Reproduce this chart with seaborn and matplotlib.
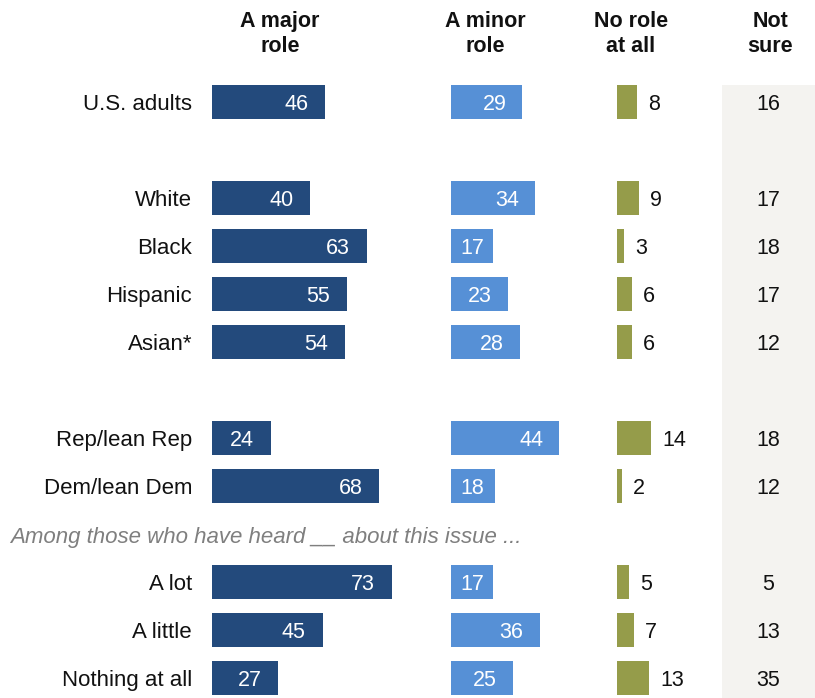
import matplotlib
matplotlib.use("Agg")
import matplotlib.pyplot as plt
import seaborn as sns
import pandas as pd

# ---------------- data ----------------
categories = ["U.S. adults", "White", "Black", "Hispanic", "Asian*",
              "Rep/lean Rep", "Dem/lean Dem", "A lot", "A little", "Nothing at all"]
groups = ["all", "race", "race", "race", "race",
          "party", "party", "heard", "heard", "heard"]
major = [46, 40, 63, 55, 54, 24, 68, 73, 45, 27]
minor = [29, 34, 17, 23, 28, 44, 18, 17, 36, 25]
no_role = [8, 9, 3, 6, 6, 14, 2, 5, 7, 13]
not_sure = [16, 17, 18, 17, 12, 18, 12, 5, 13, 35]
headers = ["A major\nrole", "A minor\nrole", "No role\nat all", "Not\nsure"]
note = "Among those who have heard __ about this issue ..."

# ---------------- layout ----------------
# row positions: one extra empty row between groups
pos = []
p = 0
for i, g in enumerate(groups):
    if i > 0:
        p += 2 if g != groups[i - 1] else 1
    pos.append(p)

df = pd.DataFrame({"cat": categories, "pos": pos, "major": major,
                   "minor": minor, "no_role": no_role, "not_sure": not_sure})

sns.set_theme(style="white")
plt.rcParams["font.family"] = ["Liberation Sans", "DejaVu Sans"]

W, H = 815, 698
fig = plt.figure(figsize=(W / 100, H / 100), dpi=100)
PX = 2.46            # pixels per percentage point
ROW0, STEP = 102, 48  # pixel y of first row, pixels per row
y_top = -ROW0 / STEP
y_bot = (H - ROW0) / STEP
BAR_H = 34 / STEP

NAVY = "#234a7c"
LIGHT = "#5690d6"
OLIVE = "#959c4a"
GRAY = "#f4f3f0"
TXT = "#111111"
PT = 0.72  # points per pixel at 100 dpi
VAL_FS = 15.5
DY = -2 * PT  # shift numbers slightly below bar centre


def col_axes(left_px, right_px):
    ax = fig.add_axes([left_px / W, 0, (right_px - left_px) / W, 1])
    ax.set_xlim(0, (right_px - left_px) / PX)
    return ax


def finish(ax):
    ax.set_ylim(y_bot, y_top)
    ax.set_xlabel("")
    ax.set_ylabel("")
    ax.set_xticks([])
    for s in ax.spines.values():
        s.set_visible(False)
    ax.patch.set_alpha(0)


# --- major role ---
ax1 = col_axes(212, 445)
sns.barplot(data=df, x="major", y="pos", orient="h", native_scale=True,
            width=BAR_H, color=NAVY, saturation=1, errorbar=None,
            linewidth=0, ax=ax1)
finish(ax1)
ax1.set_yticks(pos, categories)
ax1.tick_params(axis="y", length=0, pad=20 * PT, labelsize=16, labelcolor=TXT)
for v, y in zip(major, pos):
    ax1.annotate(f"{v}", xy=(v, y), xytext=(-17 * PT, DY), textcoords="offset points",
                 ha="right", va="center", color="white", fontsize=VAL_FS)

# --- minor role ---
ax2 = col_axes(451, 610)
sns.barplot(data=df, x="minor", y="pos", orient="h", native_scale=True,
            width=BAR_H, color=LIGHT, saturation=1, errorbar=None,
            linewidth=0, ax=ax2)
finish(ax2)
ax2.set_yticks([])
for v, y in zip(minor, pos):
    if v < 20:
        ax2.annotate(f"{v}", xy=(0, y), xytext=(9 * PT, DY), textcoords="offset points",
                     ha="left", va="center", color="white", fontsize=VAL_FS)
    else:
        ax2.annotate(f"{v}", xy=(v, y), xytext=(-16 * PT, DY), textcoords="offset points",
                     ha="right", va="center", color="white", fontsize=VAL_FS)

# --- no role at all ---
ax3 = col_axes(617, 715)
sns.barplot(data=df, x="no_role", y="pos", orient="h", native_scale=True,
            width=BAR_H, color=OLIVE, saturation=1, errorbar=None,
            linewidth=0, ax=ax3)
finish(ax3)
ax3.set_yticks([])
for v, y in zip(no_role, pos):
    ax3.annotate(f"{v}", xy=(v, y), xytext=(11 * PT, DY), textcoords="offset points",
                 ha="left", va="center", color=TXT, fontsize=VAL_FS)

# --- not sure ---
ax4 = fig.add_axes([722 / W, 0, (W - 722) / W, 1])
ax4.set_xlim(0, 1)
ax4.axhspan(-0.354, y_bot, color=GRAY, lw=0)
finish(ax4)
ax4.set_yticks([])
for v, y in zip(not_sure, pos):
    ax4.text(0.5, y + 0.06, f"{v}", ha="center", va="center",
             color=TXT, fontsize=VAL_FS)

# --- headers ---
header_x = [280, 485, 631, 770]
for hx, txt in zip(header_x, headers):
    fig.text(hx / W, 1 - 34 / H, txt, ha="center", va="center",
             fontweight="bold", fontsize=15.5, linespacing=1.3, color=TXT)

# --- note ---
fig.text(10 / W, 1 - 537 / H, note, ha="left", va="center", style="italic",
         color="#7f7f7f", fontsize=16)

fig.savefig("out.png", dpi=100)
